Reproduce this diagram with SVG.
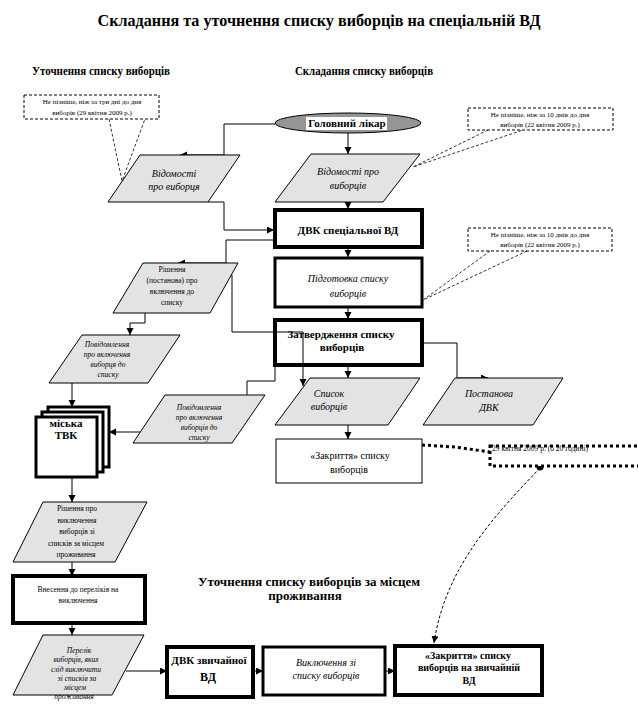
<svg xmlns="http://www.w3.org/2000/svg" width="638" height="720" viewBox="0 0 638 720" font-family="'Liberation Serif', 'DejaVu Serif', serif">
<defs>
<style>
text{font-family:"Liberation Serif","DejaVu Serif",serif;fill:#000;text-anchor:middle}
.b{font-weight:bold}
.i{font-style:italic}
.t{font-size:16px;font-weight:bold}
.h{font-size:12px;font-weight:bold}
.h2{font-size:13px;font-weight:bold}
.s7{font-size:7px}
.s75{font-size:7.5px}
.s10{font-size:10px}
.s11{font-size:11px}
.para{fill:#e3e3e3;stroke:#000;stroke-width:1}
.box1{fill:#fff;stroke:#000;stroke-width:1}
.box3{fill:#fff;stroke:#000;stroke-width:3}
.box4{fill:#fff;stroke:#000;stroke-width:4}
.call{fill:#fff;stroke:#000;stroke-width:1;stroke-dasharray:3,2}
.cl{fill:none;stroke:#000;stroke-width:0.8;stroke-dasharray:3,2}
.con{fill:none;stroke:#000;stroke-width:1;marker-end:url(#ah)}
.conn{fill:none;stroke:#000;stroke-width:1}
</style>
<marker id="ah" markerUnits="userSpaceOnUse" markerWidth="8" markerHeight="8" refX="7" refY="3.5" orient="auto">
<path d="M0,0 L7,3.5 L0,7 z" fill="#000"/>
</marker>
</defs>
<rect width="638" height="720" fill="#fff"/>

<g id="titles">
<text class="t" x="319" y="26" textLength="443" lengthAdjust="spacingAndGlyphs">Складання та уточнення списку виборців на спеціальній ВД</text>
<text class="h" x="101" y="75" textLength="138" lengthAdjust="spacingAndGlyphs">Уточнення списку виборців</text>
<text class="h" x="364" y="75" textLength="138" lengthAdjust="spacingAndGlyphs">Складання списку виборців</text>
<text class="h2" x="309" y="586" textLength="222" lengthAdjust="spacingAndGlyphs">Уточнення списку виборців за місцем</text>
<text class="h2" x="305" y="600">проживання</text>
</g>

<g id="connectors">
<polyline class="con" points="275,124 224,124 224,155 180,155"/>
<polyline class="con" points="348,133 348,154"/>
<polyline class="con" points="208,202 224,202 224,230 274,230"/>
<polyline class="con" points="348,202 348,209"/>
<polyline class="con" points="275,240 226,240 226,263 178,263"/>
<polyline class="con" points="348,247 348,257"/>
<polyline class="con" points="348,307 348,319"/>
<polyline class="con" points="348,365 348,378"/>
<polyline class="con" points="422,343 457,343 457,378 488,378"/>
<polyline class="con" points="348,425 348,439"/>
<polyline class="con" points="145,312 145,323 130,323 130,335"/>
<polyline class="con" points="72,383 72,407"/>
<polyline class="con" points="140,432 109,432"/>
<polyline class="con" points="72,477 72,502"/>
<polyline class="con" points="72,562 72,576"/>
<polyline class="con" points="72,623 72,635"/>
<polyline class="con" points="126,671 167,671"/>
<polyline class="con" points="253,671 263,671"/>
<polyline class="con" points="385,671 395,671"/>
<polyline fill="none" stroke="#000" stroke-width="3" stroke-dasharray="3,3" points="422,445 455,447 490,452"/>
<circle cx="540" cy="467" r="3.5" fill="#000"/>
<path class="con" d="M540,468 C490,520 445,570 434,643" stroke-dasharray="3,2" stroke-width="0.8"/>
</g>

<g id="callout-left">
<rect class="call" x="24" y="95" width="135" height="24"/>
<polyline class="cl" points="109,119 122,181 145,119"/>
<text class="s7" x="92" y="104">Не пізніше, ніж за три дні до дня</text>
<text class="s7" x="92" y="115">виборів (29 квітня 2009 р.)</text>
</g>

<g id="vidomosti-vybortsia">
<polygon class="para" points="140,155 240,155 208,202 108,202"/>
<text class="i s10" x="174" y="177">Відомості</text>
<text class="i s10" x="174" y="190">про виборця</text>
</g>

<g id="holovnyi-likar">
<ellipse cx="348" cy="123" rx="73" ry="10" fill="#959595" stroke="#000" stroke-width="1"/>
<rect x="306" y="117" width="81" height="13" fill="#fff"/>
<text class="b s11" x="347" y="127">Головний лікар</text>
</g>

<g id="callout-right-1">
<rect class="call" x="468" y="108" width="145" height="22"/>
<polyline class="cl" points="488,130 413,167 523,130"/>
<text class="s7" x="540" y="117">Не пізніше, ніж за 10 днів до дня</text>
<text class="s7" x="540" y="127">виборів (22 квітня 2009 р.)</text>
</g>

<g id="vidomosti-vybortsiv">
<polygon class="para" points="311,154 420,154 383,202 275,202"/>
<text class="i s10" x="348" y="175">Відомості про</text>
<text class="i s10" x="348" y="189">виборців</text>
</g>

<g id="dvk-spetsialnoi">
<rect class="box4" x="275" y="210" width="147" height="37"/>
<text class="b s11" x="348" y="234">ДВК спеціальної ВД</text>
</g>

<g id="callout-right-2">
<rect class="call" x="468" y="228" width="144" height="23"/>
<polyline class="cl" points="490,251 423,300 527,251"/>
<text class="s7" x="540" y="237">Не пізніше, ніж за 10 днів до дня</text>
<text class="s7" x="540" y="247">виборів (22 квітня 2009 р.)</text>
</g>

<g id="pidhotovka">
<rect class="box3" x="275" y="258" width="147" height="49"/>
<text class="i s10" x="348" y="282">Підготовка списку</text>
<text class="i s10" x="348" y="297">виборців</text>
</g>

<g id="rishennia-postanova">
<polygon class="para" points="143,263 238,263 210,313 113,313"/>
<text class="s75" x="172" y="272">Рішення</text>
<text class="s75" x="172" y="283">(постанова) про</text>
<text class="s75" x="172" y="294">включення до</text>
<text class="s75" x="172" y="305">списку</text>
</g>

<g id="zatverdzhennia">
<rect class="box4" x="275" y="320" width="147" height="45"/>
<text class="b s11" x="341" y="338">Затвердження списку</text>
<text class="b s11" x="342" y="351">виборців</text>
</g>
<polyline class="conn" points="232,275 232,332 303,332"/>
<polyline class="con" points="303,332 303,386"/>
<polyline class="conn" points="275,365 275,381 247,381"/>
<polyline class="con" points="247,381 247,419"/>

<g id="spysok">
<polygon class="para" points="310,378 420,378 388,425 275,425"/>
<text class="i s10" x="329" y="397">Список</text>
<text class="i s10" x="329" y="410">виборців</text>
</g>

<g id="postanova-dvk">
<polygon class="para" points="455,378 563,378 533,425 423,425"/>
<text class="i s10" x="489" y="397">Постанова</text>
<text class="i s10" x="489" y="411">ДВК</text>
</g>

<g id="zakryttia">
<rect class="box1" x="276" y="439" width="146" height="44"/>
<text class="s10" x="350" y="459">«Закриття» списку</text>
<text class="s10" x="349" y="473">виборців</text>
</g>

<g id="callout-date">
<rect x="490" y="446" width="152" height="20" fill="#fff" stroke="#000" stroke-width="3" stroke-dasharray="3,3"/>
<text class="s75" x="492" y="451" style="text-anchor:start">29 квітня 2009 р. (о 20 годині)</text>
</g>

<g id="povidomlennia-vybortsia">
<polygon class="para" points="82,335 180,335 148,383 49,383"/>
<text class="i s75" x="107" y="347">Повідомлення</text>
<text class="i s75" x="107" y="357">про включення</text>
<text class="i s75" x="108" y="367">виборця до</text>
<text class="i s75" x="108" y="377">списку</text>
</g>

<g id="miska-tvk">
<rect class="box3" x="48" y="407" width="61" height="60"/>
<rect class="box3" x="42" y="412" width="61" height="60"/>
<rect class="box3" x="36" y="417" width="61" height="60"/>
<text class="b s11" x="66" y="427">міська</text>
<text class="b s11" x="66" y="439">ТВК</text>
</g>

<g id="povidomlennia-vybortsiv">
<polygon class="para" points="165,395 265,395 232,443 133,443"/>
<text class="i s75" x="199" y="410">Повідомлення</text>
<text class="i s75" x="199" y="420">про включення</text>
<text class="i s75" x="199" y="430">виборців до</text>
<text class="i s75" x="199" y="440">списку</text>
</g>

<g id="rishennia-vykliuchennia">
<polygon class="para" points="43,502 147,502 115,562 13,562"/>
<text class="s75" x="77" y="511">Рішення про</text>
<text class="s75" x="77" y="523">виключення</text>
<text class="s75" x="77" y="534">виборців зі</text>
<text class="s75" x="76" y="546">списків за місцем</text>
<text class="s75" x="76" y="557">проживання</text>
</g>

<g id="vnesennia">
<rect class="box4" x="13" y="576" width="132" height="47"/>
<text class="s75" x="78" y="592">Внесення до переліків на</text>
<text class="s75" x="78" y="603">виключення</text>
</g>

<g id="perelik">
<polygon class="para" points="43,635 144,635 112,695 13,695"/>
<text class="i s75" x="79" y="653">Перелік</text>
<text class="i s75" x="76" y="662">виборців, яких</text>
<text class="i s75" x="76" y="672">слід виключити</text>
<text class="i s75" x="77" y="681">зі списків за</text>
<text class="i s75" x="75" y="690">місцем</text>
<text class="i s75" x="74" y="699">проживання</text>
</g>

<g id="dvk-zvychainoi">
<rect class="box4" x="167" y="647" width="86" height="50"/>
<text class="b s11" x="209" y="664">ДВК звичайної</text>
<text class="b" x="208" y="681" style="font-size:12px">ВД</text>
</g>

<g id="vykliuchennia">
<rect class="box3" x="263" y="647" width="122" height="48"/>
<text class="i s10" x="326" y="666">Виключення зі</text>
<text class="i s10" x="326" y="679">списку виборців</text>
</g>

<g id="zakryttia-zvychainoi">
<rect class="box4" x="395" y="646" width="147" height="49"/>
<text class="b s10" x="468" y="659">«Закриття» списку</text>
<text class="b s10" x="469" y="671">виборців на звичайній</text>
<text class="b s10" x="469" y="684">ВД</text>
</g>
</svg>
